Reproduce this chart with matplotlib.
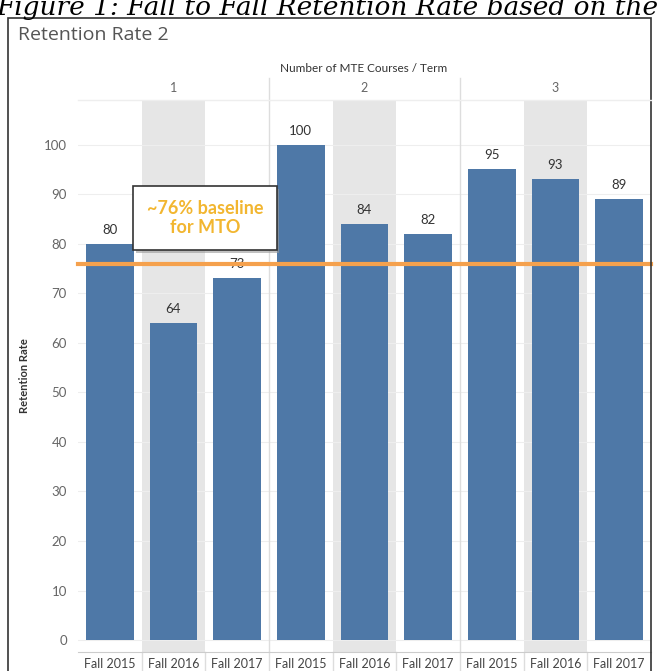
import numpy as np
import matplotlib.pyplot as plt
from matplotlib.patches import Rectangle

# retention rate by number of MTE courses and fall term
panes = ['1', '2', '3']
terms = ['Fall 2015', 'Fall 2016', 'Fall 2017']
rates = [80, 64, 73, 100, 84, 82, 95, 93, 89]
baseline = 76

W, H = 661, 671
fig = plt.figure(figsize=(W / 100, H / 100), dpi=100)
fig.patch.set_facecolor('white')
plt.rcParams['font.family'] = ['Lato', 'DejaVu Sans']

def fx(px):
    return px / W

def fy(py):
    return 1 - py / H

# caption running off the top of the page
fig.text(fx(-4), fy(15), 'Figure 1: Fall to Fall Retention Rate based on the',
         fontsize=19, style='italic', family='DejaVu Serif', va='baseline')

# worksheet frame
fig.add_artist(Rectangle((fx(8), fy(690)), fx(651) - fx(8), fy(18) - fy(690),
                         transform=fig.transFigure, fill=False, ec='#333333', lw=1.2))
fig.text(fx(18), fy(35), 'Retention Rate 2', fontsize=14, color='#555555',
         va='center', family='Open Sans')

# plot area
left, right, top, bottom = 78, 651, 100, 652
ax = fig.add_axes([fx(left), fy(bottom), fx(right) - fx(left), fy(top) - fy(bottom)])
n = len(rates)
x = np.arange(n)
for i in range(n):
    if i % 3 == 1:
        ax.axvspan(i - 0.5, i + 0.5, color='#e6e6e6', zorder=0, lw=0)
ax.set_xlim(-0.5, n - 0.5)
ax.set_ylim(-2.4, 109)
ax.set_yticks(range(0, 101, 10))
ax.yaxis.grid(True, color='#eeeeee', lw=0.8, zorder=0)
ax.set_axisbelow(True)
bars = ax.bar(x, rates, width=0.75, color='#4e78a7', zorder=2)
for xi, r in zip(x, rates):
    ax.text(xi, r + 1.6, str(r), ha='center', va='bottom', fontsize=9.5, color='#333333')
ax.axhline(baseline, color='#f5a14d', lw=3, zorder=3, clip_on=False)
for b in [2.5, 5.5]:
    ax.axvline(b, color='#dddddd', lw=1, zorder=1)
for s in ax.spines.values():
    s.set_visible(False)
ax.spines['bottom'].set_visible(True)
ax.spines['bottom'].set_color('#cccccc')
ax.set_xticks(x)
ax.set_xticklabels(terms * 3, fontsize=9, color='#444444')
ax.tick_params(axis='x', length=0, pad=4)
ax.tick_params(axis='y', length=0, pad=8, labelsize=9.5, labelcolor='#666666')
ax.set_ylabel('Retention Rate', fontsize=8, color='#333333', labelpad=10,
              fontweight='bold')

# column dividers between labels
for b in np.arange(0.5, n - 0.5, 1):
    ax.plot([b, b], [-2.4, -6.5], color='#dddddd', lw=1, clip_on=False,
            transform=ax.transData)

# header rows
fig.text(fx(364), fy(68), 'Number of MTE Courses / Term', fontsize=8.5,
         ha='center', va='center', color='#333333')
pane_w = (right - left) / 3
for k, p in enumerate(panes):
    fig.text(fx(left + pane_w * (k + 0.5)), fy(88), p, fontsize=9,
             ha='center', va='center', color='#666666')
for k in [1, 2]:
    xp = left + pane_w * k
    fig.add_artist(plt.Line2D([fx(xp), fx(xp)], [fy(78), fy(100)],
                              transform=fig.transFigure, color='#dddddd', lw=1))
fig.add_artist(plt.Line2D([fx(left), fx(right)], [fy(100), fy(100)],
                          transform=fig.transFigure, color='#eeeeee', lw=1))

# baseline callout
fig.add_artist(Rectangle((fx(136), fy(253)), fx(279) - fx(136), fy(189) - fy(253),
                         transform=fig.transFigure, fc='#999999', ec='none', alpha=0.6))
fig.add_artist(Rectangle((fx(133), fy(250)), fx(277) - fx(133), fy(186) - fy(250),
                         transform=fig.transFigure, fc='white', ec='#333333', lw=1.2))
fig.text(fx(205), fy(218), '~76% baseline\nfor MTO', fontsize=13, fontweight='bold',
         color='#f2b630', ha='center', va='center', linespacing=1.15)

fig.savefig('out.png', dpi=100)
